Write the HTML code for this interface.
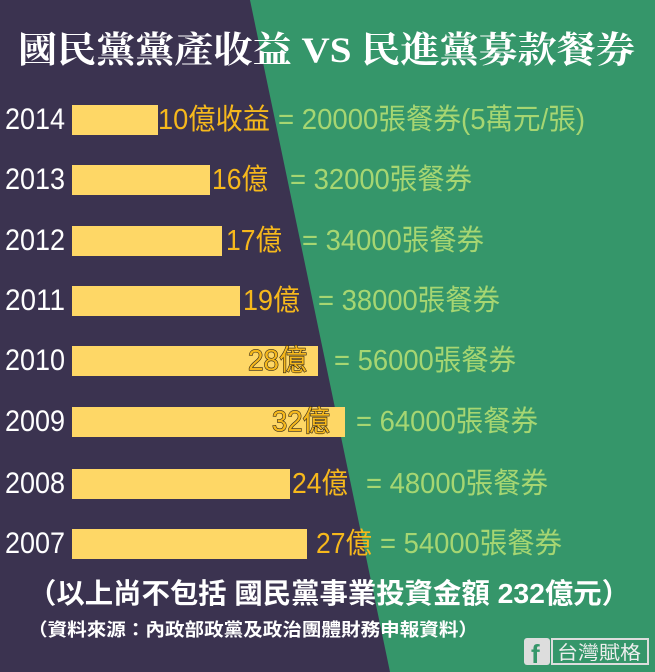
<!DOCTYPE html>
<html><head><meta charset="utf-8"><style>html,body{margin:0;padding:0;background:#3b3350}svg{display:block}</style></head>
<body>
<svg width="655" height="672" viewBox="0 0 655 672" xmlns="http://www.w3.org/2000/svg" font-family="'Liberation Sans','Noto Sans CJK TC',sans-serif">
<rect width="655" height="672" fill="#3b3350"/>
<polygon points="250,0 655,0 655,672 390,672" fill="#35966a"/>
<text x="18" y="62" font-size="36" font-weight="bold" fill="#fff" textLength="617" lengthAdjust="spacingAndGlyphs" font-family="'Liberation Serif','Noto Serif CJK SC',serif">國民黨黨產收益 VS 民進黨募款餐券</text>
<g font-size="30" fill="#fff">
<text x="5" y="129" textLength="60" lengthAdjust="spacingAndGlyphs">2014</text>
<text x="5" y="189" textLength="60" lengthAdjust="spacingAndGlyphs">2013</text>
<text x="5" y="250" textLength="60" lengthAdjust="spacingAndGlyphs">2012</text>
<text x="5" y="310" textLength="60" lengthAdjust="spacingAndGlyphs">2011</text>
<text x="5" y="370" textLength="60" lengthAdjust="spacingAndGlyphs">2010</text>
<text x="5" y="431" textLength="60" lengthAdjust="spacingAndGlyphs">2009</text>
<text x="5" y="493" textLength="60" lengthAdjust="spacingAndGlyphs">2008</text>
<text x="5" y="553" textLength="60" lengthAdjust="spacingAndGlyphs">2007</text>
</g>
<g fill="#fed766">
<rect x="72" y="105" width="86" height="30"/>
<rect x="72" y="165" width="138" height="30"/>
<rect x="72" y="226" width="150" height="30"/>
<rect x="72" y="286" width="168" height="30"/>
<rect x="72" y="346" width="246" height="30"/>
<rect x="72" y="407" width="273" height="30"/>
<rect x="72" y="469" width="218" height="30"/>
<rect x="72" y="529" width="235" height="30"/>
</g>
<g font-size="29" fill="#f6b81c">
<text x="158" y="129" textLength="112" lengthAdjust="spacingAndGlyphs">10億收益</text>
<text x="212" y="189" textLength="56" lengthAdjust="spacingAndGlyphs">16億</text>
<text x="226" y="250" textLength="56" lengthAdjust="spacingAndGlyphs">17億</text>
<text x="243" y="310" textLength="57" lengthAdjust="spacingAndGlyphs">19億</text>
<text x="248" y="370" textLength="59" lengthAdjust="spacingAndGlyphs" stroke="#2e2418" stroke-width="1.2" paint-order="stroke">28億</text>
<text x="272" y="431" textLength="58" lengthAdjust="spacingAndGlyphs" stroke="#2e2418" stroke-width="1.2" paint-order="stroke">32億</text>
<text x="292" y="493" textLength="56" lengthAdjust="spacingAndGlyphs">24億</text>
<text x="316" y="553" textLength="56" lengthAdjust="spacingAndGlyphs">27億</text>
</g>
<g font-size="29" fill="#a6d672">
<text x="278" y="129" textLength="307" lengthAdjust="spacingAndGlyphs">= 20000張餐券(5萬元/張)</text>
<text x="290" y="189" textLength="182" lengthAdjust="spacingAndGlyphs">= 32000張餐券</text>
<text x="302" y="250" textLength="182" lengthAdjust="spacingAndGlyphs">= 34000張餐券</text>
<text x="318" y="310" textLength="182" lengthAdjust="spacingAndGlyphs">= 38000張餐券</text>
<text x="334" y="370" textLength="182" lengthAdjust="spacingAndGlyphs">= 56000張餐券</text>
<text x="356" y="431" textLength="182" lengthAdjust="spacingAndGlyphs">= 64000張餐券</text>
<text x="366" y="493" textLength="182" lengthAdjust="spacingAndGlyphs">= 48000張餐券</text>
<text x="380" y="553" textLength="182" lengthAdjust="spacingAndGlyphs">= 54000張餐券</text>
</g>
<text x="28" y="603" font-size="28" font-weight="bold" fill="#fff" textLength="602" lengthAdjust="spacingAndGlyphs">（以上尚不包括 國民黨事業投資金額 232億元）</text>
<text x="28" y="636" font-size="18" font-weight="bold" fill="#fff" textLength="450" lengthAdjust="spacingAndGlyphs">（資料來源：內政部政黨及政治團體財務申報資料）</text>
<rect x="524" y="638" width="26" height="27" rx="3" fill="#ddd"/>
<text x="531" y="663" font-size="26" font-weight="bold" fill="#35966a">f</text>
<rect x="552" y="639" width="96" height="25" fill="none" stroke="#ddd" stroke-width="2"/>
<text x="557" y="659" font-size="19" fill="#eee" textLength="84" lengthAdjust="spacingAndGlyphs">台灣賦格</text>
</svg>
</body></html>
